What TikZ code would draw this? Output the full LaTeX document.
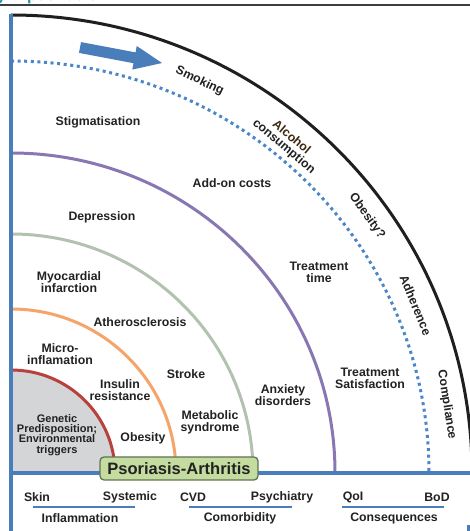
\documentclass[tikz,border=0pt]{standalone}
\usepackage{fontspec}
\setmainfont{Liberation Sans}
\definecolor{axisblue}{HTML}{4A7EBB}
\definecolor{dotblue}{HTML}{4A86C8}
\definecolor{arcred}{HTML}{B8413D}
\definecolor{arcorange}{HTML}{F7A46A}
\definecolor{arcgreen}{HTML}{B3C2B0}
\definecolor{arcpurple}{HTML}{8877B2}
\definecolor{coregrey}{HTML}{D4D5D7}
\definecolor{boxgreen}{HTML}{C4DCA0}
\definecolor{boxedge}{HTML}{627254}
\definecolor{txt}{HTML}{222222}
\definecolor{alctxt}{HTML}{3E2A10}
\definecolor{titleteal}{HTML}{1F9A9A}
\definecolor{rulegrey}{HTML}{3D3D3D}
\begin{document}
\begin{tikzpicture}[x=1pt,y=1pt,
  lbl/.style={font=\fontsize{12.3}{11.7}\selectfont\bfseries, text=txt, align=center, inner sep=0pt},
  smalllbl/.style={font=\fontsize{11}{10.3}\selectfont\bfseries, text=txt, align=center, inner sep=0pt},
  ring/.style={line width=3pt},
  axis/.style={draw=axisblue, line width=3.2pt},
  bar/.style={draw=axisblue, line width=2.8pt},
  titletext/.style={font=\fontsize{16}{16}\selectfont\bfseries, text=titleteal, inner sep=0pt},
]
\useasboundingbox (0,0) rectangle (470,531);
\fill[white] (0,0) rectangle (470,531);

% centre of the concentric rings
\coordinate (O) at (11,58);

% heading above the rule (only its lower edge is visible)
\begin{scope}
  \clip (0,526) rectangle (470,531);
  \node[titletext, anchor=base west] (ttl1) at (-3,530.5) {y};
  \node[titletext, anchor=base west] (ttl2) at (27,530.5) {psoriasis};
\end{scope}
\draw[rulegrey, line width=2pt] (0,525.5) -- (470,525.5);

% core quarter disc
\fill[coregrey] (O) -- (11,161) arc[start angle=90, end angle=0, x radius=104, y radius=103] -- cycle;
\draw[ring, arcred] (11,161) arc[start angle=90, end angle=0, x radius=104, y radius=103];
% rings
\draw[ring, arcorange] (11,222) arc[start angle=90, end angle=0, x radius=165, y radius=164];
\draw[ring, arcgreen] (11,297) arc[start angle=90, end angle=0, x radius=242, y radius=239];
\draw[ring, arcpurple] (11,378) arc[start angle=90, end angle=0, x radius=324, y radius=320];
\draw[ring, dotblue, dash pattern=on 3pt off 3.6pt] (11,470) arc[start angle=90, end angle=0, x radius=418, y radius=412];
\draw[ring, black!88] (11,516) arc[start angle=90, end angle=0, x radius=461, y radius=458];

% axes
\draw[axis] (11,517) -- (11,0);
\draw[axis] (11,58) -- (470,58);
\draw[axis] (469,6) -- (469,0);

% direction arrow
\begin{scope}[shift={(80,483.5)}, rotate=-10.7]
  \fill[axisblue] (0,5.5) -- (55.5,5.5) -- (55.5,12) -- (83.5,0) -- (55.5,-12) -- (55.5,-5.5) -- (0,-5.5) -- cycle;
\end{scope}

% central box
\node[draw=boxedge, fill=boxgreen, line width=1.3pt, rounded corners=4pt,
      minimum width=158pt, minimum height=23pt, inner sep=0pt,
      font=\fontsize{16.5}{16.5}\selectfont\bfseries, text=txt] (psa) at (179,62.5) {Psoriasis-Arthritis};

% labels between the rings
\node[lbl] (stig) at (98,409) {Stigmatisation};
\node[lbl] (addon) at (232,348) {Add-on costs};
\node[lbl] (depr) at (102,314) {Depression};
\node[lbl] (ttime) at (319,259) {Treatment\\time};
\node[lbl] (myo) at (69,249) {Myocardial\\infarction};
\node[lbl] (ather) at (140,209) {Atherosclerosis};
\node[lbl] (micro) at (60,177) {Micro-\\inflamation};
\node[lbl] (stroke) at (186,157) {Stroke};
\node[lbl] (insulin) at (120,141) {Insulin\\resistance};
\node[lbl] (anx) at (283,136) {Anxiety\\disorders};
\node[lbl] (tsat) at (370,153) {Treatment\\Satisfaction};
\node[lbl] (metab) at (210,109) {Metabolic\\syndrome};
\node[smalllbl] (genetic) at (57,96) {Genetic\\Predisposition;\\Environmental\\triggers};
\node[lbl] (obes) at (143,93) {Obesity};

% labels along the outer band
\node[lbl, rotate=-25.7] (smoke) at ([shift={(64.3:435)}]O) {Smoking};
\node[lbl, rotate=-39.9] (alc) at ([shift={(50.1:431)}]O) {\textcolor{alctxt}{Alcohol}\\consumption};
\node[lbl, rotate=-54.2] (obq) at ([shift={(35.8:439)}]O) {Obesity?};
\node[lbl, rotate=-67.5] (adh) at ([shift={(22.5:438)}]O) {Adherence};
\node[lbl, rotate=-81.1] (compl) at ([shift={(8.9:441)}]O) {Compliance};

% legend
\node[lbl] (skin) at (37,34) {Skin};
\node[lbl] (syst) at (130,34) {Systemic};
\node[lbl] (cvd) at (193,34) {CVD};
\node[lbl] (psych) at (282,34) {Psychiatry};
\node[lbl] (qol) at (353,34) {QoI};
\node[lbl] (bod) at (437,34) {BoD};
\draw[bar] (33,24) -- (135,24);
\draw[bar] (189,24) -- (292,24);
\draw[bar] (342,24) -- (444,24);
\node[lbl] (infl) at (80,13) {Inflammation};
\node[lbl] (comorb) at (240,13) {Comorbidity};
\node[lbl] (conseq) at (394,13) {Consequences};
\end{tikzpicture}
\end{document}
